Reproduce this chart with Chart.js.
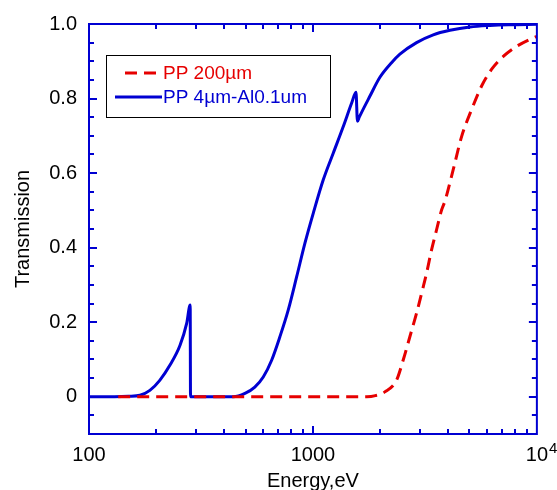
<!DOCTYPE html>
<html>
<head>
<meta charset="utf-8">
<script src="https://cdn.jsdelivr.net/npm/chart.js@4"></script>
<style>
  html, body { margin: 0; padding: 0; background: #fff; }
  #wrap { width: 557px; height: 490px; }
</style>
</head>
<body>
<div id="wrap"><canvas id="chart" width="557" height="490"></canvas></div>
<script>
// photon energy (eV) and transmission
const redEnergy = [135, 1742, 1900, 2094, 2361, 2528, 2709, 2902, 3055, 3216, 3386, 3565, 3754, 3882, 4230, 4611, 5109, 5658, 6272, 7079, 8118, 9640, 10000];
const redTrans  = [0, 0, 0.003, 0.013, 0.044, 0.098, 0.161, 0.224, 0.277, 0.331, 0.394, 0.448, 0.501, 0.524, 0.609, 0.698, 0.770, 0.833, 0.878, 0.913, 0.940, 0.963, 0.967];

const blueEnergy = [100, 130, 150, 169, 187, 207, 230, 255, 273, 283, 284, 350, 440, 497, 550, 600, 654, 712, 776, 846, 921, 1003, 1112, 1233, 1366, 1489, 1557, 1580, 1610, 1795, 1991, 2244, 2445, 2902, 3445, 4090, 5026, 6166, 7500, 10000];
const blueTrans  = [0, 0, 0.001, 0.004, 0.017, 0.044, 0.085, 0.138, 0.197, 0.246, 0, 0, 0, 0.009, 0.026, 0.053, 0.098, 0.161, 0.233, 0.322, 0.412, 0.492, 0.582, 0.654, 0.725, 0.788, 0.817, 0.739, 0.750, 0.806, 0.857, 0.896, 0.919, 0.950, 0.971, 0.983, 0.992, 0.996, 0.998, 0.999];

const seriesNames = ['PP 200\u00b5m', 'PP 4\u00b5m-Al0.1um'];

const xTicks = [100, 1000, 10000];
const xTickLabels = ['100', '1000', '10'];
const xTickExponents = ['', '', '4'];
const yTicks = [0, 0.2, 0.4, 0.6, 0.8, 1.0];
const yTickLabels = ['0', '0.2', '0.4', '0.6', '0.8', '1.0'];

const RED = '#e60000';
const BLUE = '#0000d2';
const FONT = '"Liberation Sans", Arial, sans-serif';

function toPoints(xs, ys) {
    return xs.map((x, i) => ({ x: x, y: ys[i] }));
}

// frame with inward ticks on all four sides
const framePlugin = {
    id: 'frame',
    afterDatasetsDraw(chart) {
        const ctx = chart.ctx;
        const a = chart.chartArea;
        const xs = chart.scales.x;
        const ys = chart.scales.y;
        ctx.save();
        ctx.strokeStyle = BLUE;
        ctx.lineWidth = 2;
        ctx.strokeRect(a.left, a.top, a.right - a.left, a.bottom - a.top);
        ctx.beginPath();
        // y ticks every 0.05, major every 0.2
        for (let k = -2; k <= 20; k++) {
            const v = k * 0.05;
            const py = Math.round(ys.getPixelForValue(v));
            if (py <= a.top + 1 || py >= a.bottom - 1) continue;
            const len = (k % 4 === 0) ? 8 : 5;
            ctx.moveTo(a.left, py); ctx.lineTo(a.left + len, py);
            ctx.moveTo(a.right, py); ctx.lineTo(a.right - len, py);
        }
        // x ticks: decades major, 2..9 minor
        for (let d = 100; d < 10000; d *= 10) {
            for (let m = 1; m <= 9; m++) {
                const v = d * m;
                const px = Math.round(xs.getPixelForValue(v));
                if (px <= a.left + 1 || px >= a.right - 1) continue;
                const len = (m === 1) ? 8 : 5;
                ctx.moveTo(px, a.bottom); ctx.lineTo(px, a.bottom - len);
                ctx.moveTo(px, a.top); ctx.lineTo(px, a.top + len);
            }
        }
        ctx.stroke();

        // exponents on the x tick labels (10^4)
        ctx.fillStyle = '#000';
        ctx.textBaseline = 'top';
        ctx.textAlign = 'left';
        xTicks.forEach((v, i) => {
            if (!xTickExponents[i]) return;
            ctx.font = '20px ' + FONT;
            const w = ctx.measureText(xTickLabels[i]).width;
            ctx.font = '15px ' + FONT;
            const px = xs.getPixelForValue(v);
            ctx.fillText(xTickExponents[i], px + w / 2 + 1, a.bottom + 7);
        });
        ctx.restore();
    }
};

// boxed legend in the upper left of the plot
const boxLegendPlugin = {
    id: 'boxLegend',
    afterDraw(chart) {
        const ctx = chart.ctx;
        const a = chart.chartArea;
        const bx = a.left + 17, by = a.top + 31, bw = 224, bh = 62;
        ctx.save();
        ctx.fillStyle = '#fff';
        ctx.fillRect(bx, by, bw, bh);
        ctx.strokeStyle = '#000';
        ctx.lineWidth = 1;
        ctx.strokeRect(bx + 0.5, by + 0.5, bw, bh);
        ctx.font = '19px ' + FONT;
        ctx.textBaseline = 'middle';
        chart.data.datasets.forEach((ds, i) => {
            const y = by + 18 + i * 24;
            ctx.strokeStyle = ds.borderColor;
            ctx.lineWidth = ds.borderWidth;
            ctx.setLineDash(ds.borderDash || []);
            ctx.beginPath();
            if (ds.borderDash) {
                ctx.moveTo(bx + 19, y); ctx.lineTo(bx + 52, y);
            } else {
                ctx.moveTo(bx + 9, y); ctx.lineTo(bx + 56, y);
            }
            ctx.stroke();
            ctx.setLineDash([]);
            ctx.fillStyle = ds.borderColor;
            ctx.fillText(ds.label, bx + 57, y + 1);
        });
        ctx.restore();
    }
};

new Chart(document.getElementById('chart'), {
    type: 'line',
    data: {
        datasets: [{
            label: seriesNames[0],
            data: toPoints(redEnergy, redTrans),
            borderColor: RED,
            borderWidth: 3,
            borderDash: [12, 7],
            pointRadius: 0,
            fill: false,
            cubicInterpolationMode: 'monotone'
        }, {
            label: seriesNames[1],
            data: toPoints(blueEnergy, blueTrans),
            borderColor: BLUE,
            borderWidth: 3,
            pointRadius: 0,
            fill: false,
            cubicInterpolationMode: 'monotone'
        }]
    },
    options: {
        responsive: false,
        animation: false,
        layout: { padding: { top: 24, right: 20, left: 0, bottom: 0 } },
        plugins: {
            legend: { display: false },
            tooltip: { enabled: false }
        },
        scales: {
            x: {
                type: 'logarithmic',
                min: 100,
                max: 10000,
                afterBuildTicks: scale => { scale.ticks = xTicks.map(v => ({ value: v })); },
                afterFit: scale => { scale.height = 56; },
                grid: { display: false, drawTicks: false },
                border: { display: false },
                ticks: {
                    padding: 9,
                    color: '#000',
                    font: { family: FONT, size: 20 },
                    maxRotation: 0,
                    autoSkip: false,
                    callback: (v) => xTickLabels[xTicks.indexOf(v)]
                },
                title: {
                    display: true,
                    text: 'Energy,eV',
                    color: '#000',
                    font: { family: FONT, size: 20, lineHeight: 0.9 },
                    padding: 0
                }
            },
            y: {
                min: -0.1,
                max: 1.0,
                afterBuildTicks: scale => { scale.ticks = yTicks.map(v => ({ value: v })); },
                afterFit: scale => { scale.width = 89; },
                grid: { display: false, drawTicks: false },
                border: { display: false },
                ticks: {
                    padding: 12,
                    color: '#000',
                    font: { family: FONT, size: 20 },
                    callback: (v) => yTickLabels[yTicks.findIndex(t => Math.abs(t - v) < 1e-9)]
                },
                title: {
                    display: true,
                    text: 'Transmission',
                    color: '#000',
                    font: { family: FONT, size: 20, lineHeight: 2.3 },
                    padding: 0
                }
            }
        }
    },
    plugins: [framePlugin, boxLegendPlugin]
});
</script>
</body>
</html>
